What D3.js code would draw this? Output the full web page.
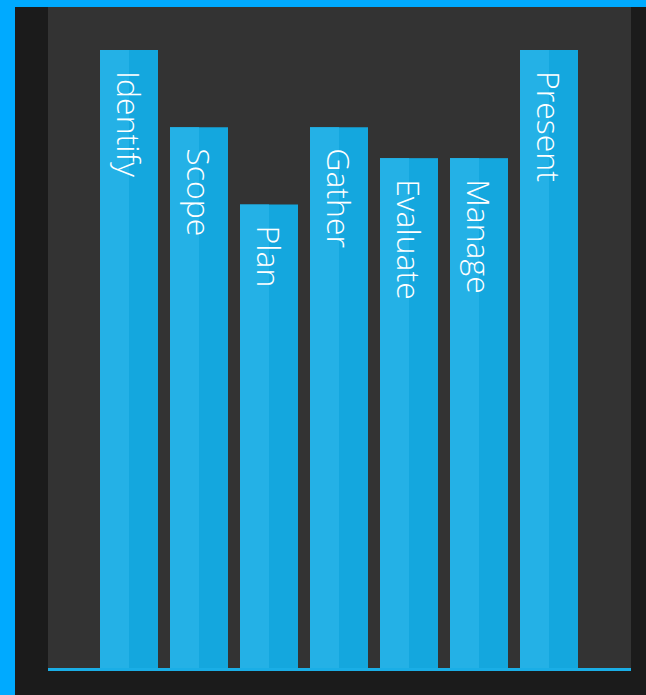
<!DOCTYPE html>
<html>
<head>
<meta charset="utf-8">
<script src="https://cdn.jsdelivr.net/npm/d3@7"></script>
<style>
  html, body { margin: 0; padding: 0; background: #1b1b1b; }
  svg { display: block; }
</style>
</head>
<body>
<svg id="chart" width="646" height="695"></svg>
<script>
const categories = ["Identify", "Scope", "Plan", "Gather", "Evaluate", "Manage", "Present"];
const values = [8, 7, 6, 7, 6.6, 6.6, 8];

const W = 646, H = 695;
const svg = d3.select("#chart");

// frame
svg.append("rect").attr("x", 0).attr("y", 0).attr("width", W).attr("height", H).attr("fill", "#1b1b1b");
svg.append("rect").attr("x", 0).attr("y", 0).attr("width", W).attr("height", 7).attr("fill", "#00aaff");
svg.append("rect").attr("x", 0).attr("y", 0).attr("width", 15).attr("height", H).attr("fill", "#00aaff");

const plot = { left: 48, right: 631, top: 7, bottom: 668 };
svg.append("rect")
  .attr("x", plot.left).attr("y", plot.top)
  .attr("width", plot.right - plot.left).attr("height", plot.bottom - plot.top)
  .attr("fill", "#333333");

const x = d3.scaleBand()
  .domain(categories)
  .range([94, 584])
  .paddingInner(12 / 70)
  .paddingOuter(6 / 70);

const y = d3.scaleLinear().domain([0, 8]).range([plot.bottom, 50]);

const data = categories.map((c, i) => ({ c, v: values[i] }));

const g = svg.append("g");
const bars = g.selectAll("g.bar").data(data).join("g").attr("class", "bar");

bars.append("rect")
  .attr("x", d => x(d.c))
  .attr("y", d => y(d.v))
  .attr("width", x.bandwidth())
  .attr("height", d => y(0) - y(d.v))
  .attr("fill", "#14a7de");

bars.append("rect")
  .attr("x", d => x(d.c))
  .attr("y", d => y(d.v))
  .attr("width", x.bandwidth() / 2)
  .attr("height", d => y(0) - y(d.v))
  .attr("fill", "#24b1e6");

bars.append("text")
  .attr("transform", d => `translate(${x(d.c) + x.bandwidth() / 2 - 12},${y(d.v) + 21}) rotate(90)`)
  .attr("text-anchor", "start")
  .attr("fill", "#ffffff")
  .style("font-family", "'Open Sans', 'Noto Sans', sans-serif")
  .style("font-weight", 300)
  .style("font-size", "32px")
  .text(d => d.c);

// baseline
svg.append("line")
  .attr("x1", plot.left).attr("x2", plot.right)
  .attr("y1", plot.bottom + 1.5).attr("y2", plot.bottom + 1.5)
  .attr("stroke", "#1aaee6").attr("stroke-width", 3);
</script>
</body>
</html>
